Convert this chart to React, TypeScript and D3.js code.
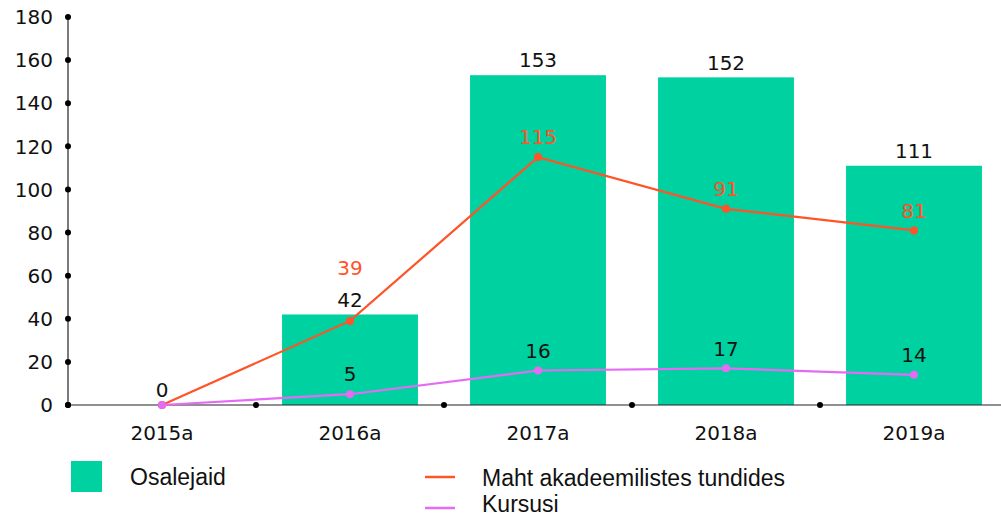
import React from "react";
import * as d3 from "d3";

const categories = ["2015a", "2016a", "2017a", "2018a", "2019a"];
const osalejaid = [0, 42, 153, 152, 111];
const maht = [0, 39, 115, 91, 81];
const kursusi = [0, 5, 16, 17, 14];
const yTicks = [0, 20, 40, 60, 80, 100, 120, 140, 160, 180];

const W = 1001, H = 517;
const GREEN = "#00D1A0";
const ORANGE = "#FF5328";
const PURPLE = "#E46CF4";
const NUMFONT = "DejaVu Sans, Verdana, sans-serif";
const FONT = "Liberation Sans, Arial, sans-serif";

export default function App() {
  const left = 68, top = 17, bottom = 405;
  const x = d3.scaleBand<string>().domain(categories).range([left, left + 188 * 5]).paddingInner(0.277).paddingOuter(0.1385);
  const xb = d3.scaleBand<string>().domain(categories).range([left, left + 188 * 5]);
  const y = d3.scaleLinear().domain([0, 180]).range([bottom, top]);
  const cx = (c: string) => (xb(c) as number) + xb.bandwidth() / 2;
  const lineGen = d3.line<number>().x((_, i) => cx(categories[i])).y((d) => y(d));
  const NS = 20;

  return (
    <svg width={W} height={H} style={{ position: "absolute", left: 0, top: 0, fontFamily: NUMFONT }}>
      {/* bars */}
      {categories.map((c, i) => (
        <rect key={c} x={x(c)} y={y(osalejaid[i])} width={x.bandwidth()} height={bottom - y(osalejaid[i])} fill={GREEN} />
      ))}
      {/* axes */}
      <line x1={left} x2={W} y1={bottom} y2={bottom} stroke="#222" strokeWidth={1.2} />
      <line x1={left} x2={left} y1={top} y2={bottom} stroke="#222" strokeWidth={1.2} />
      {yTicks.map((t) => (
        <g key={t}>
          <circle cx={left} cy={y(t)} r={3} fill="#000" />
          <text x={53} y={y(t)} dy="0.36em" textAnchor="end" fontSize={NS} fill="#111">{t}</text>
        </g>
      ))}
      {categories.map((c) => (
        <g key={c}>
          <circle cx={xb(c) as number} cy={bottom} r={3} fill="#000" />
          <text x={cx(c)} y={433} dy="0.36em" textAnchor="middle" fontSize={NS} fill="#111">{c}</text>
        </g>
      ))}
      {/* bar labels */}
      {categories.map((c, i) => (
        <text key={c} x={cx(c)} y={y(osalejaid[i]) - 15} dy="0.36em" textAnchor="middle" fontSize={NS} fill="#111">{osalejaid[i]}</text>
      ))}
      {/* lines */}
      <path d={lineGen(maht) || ""} fill="none" stroke={ORANGE} strokeWidth={2.2} />
      <path d={lineGen(kursusi) || ""} fill="none" stroke={PURPLE} strokeWidth={2.2} />
      {maht.map((v, i) => (
        <circle key={"m" + i} cx={cx(categories[i])} cy={y(v)} r={4} fill={ORANGE} />
      ))}
      {kursusi.map((v, i) => (
        <circle key={"k" + i} cx={cx(categories[i])} cy={y(v)} r={4} fill={PURPLE} />
      ))}
      {maht.map((v, i) =>
        i === 0 ? null : (
          <text key={"ml" + i} x={cx(categories[i])} y={y(v) - (i === 1 ? 53 : 20)} dy="0.36em" textAnchor="middle" fontSize={NS} fill={ORANGE}>{v}</text>
        )
      )}
      {kursusi.map((v, i) =>
        i === 0 ? null : (
          <text key={"kl" + i} x={cx(categories[i])} y={y(v) - 20} dy="0.36em" textAnchor="middle" fontSize={NS} fill="#111">{v}</text>
        )
      )}
      {/* legend */}
      <g fontFamily={FONT} fontSize={23} fill="#111">
        <rect x={71} y={461} width={31} height={31} fill={GREEN} />
        <text x={130} y={485}>Osalejaid</text>
        <line x1={425} x2={455} y1={477} y2={477} stroke={ORANGE} strokeWidth={2.5} />
        <text x={482} y={485.5}>Maht akadeemilistes tundides</text>
        <line x1={425} x2={455} y1={508} y2={508} stroke={PURPLE} strokeWidth={2.5} />
        <text x={482} y={512}>Kursusi</text>
      </g>
    </svg>
  );
}
